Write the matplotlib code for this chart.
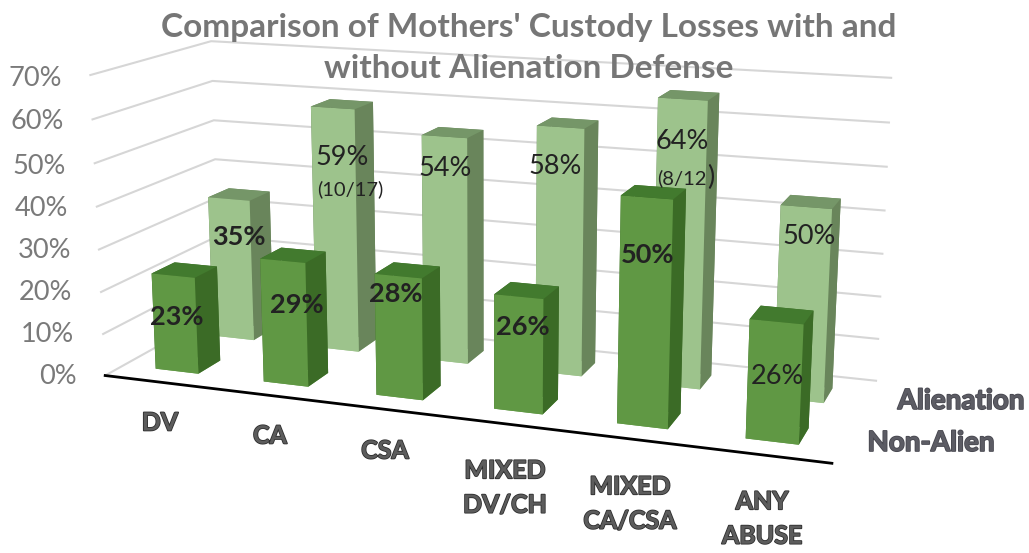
import matplotlib
matplotlib.use("Agg")
import matplotlib.patheffects as pe
import matplotlib.pyplot as plt
import numpy as np

categories = ["DV", "CA", "CSA", "MIXED\nDV/CH", "MIXED\nCA/CSA", "ANY\nABUSE"]
non_alien = [23, 29, 28, 26, 50, 26]
# bar heights as drawn, these differ from the typed-in labels on the last two
alienation = [35, 59, 54, 58, 66, 44]
non_alien_labels = ["23%", "29%", "28%", "26%", "50%", "26%"]
alienation_labels = ["35%", "59%", "54%", "58%", "64%", "50%"]
y_ticks = [0, 10, 20, 30, 40, 50, 60, 70]

W, H = 1029, 553
plt.rcParams["font.family"] = ["Lato", "DejaVu Sans"]

fig = plt.figure(figsize=(W / 100, H / 100), dpi=100)
ax = fig.add_axes([-0.0383, -0.3717, 1, W / H], projection="3d")
ax.set_xlim(0, 6)
ax.set_ylim(0, 2)
ax.set_zlim(0, 70)
ax.view_init(13.6717, -70.0746)
ax.set_proj_type("persp", focal_length=0.346)
ax.set_box_aspect((1, 0.3381, 0.417), zoom=0.797)
ax.set_axis_off()
ax.computed_zorder = False

for t in y_ticks:
    ax.plot([0, 0, 6], [0, 2, 2], [t, t, t], color="#d6d6d6", lw=1.5, zorder=1)
ax.plot([0, 6], [0, 0], [0, 0], color="black", lw=2, zorder=2)

x = np.arange(len(categories)) + 0.3
ax.bar3d(x, np.full(6, 1.3), 0, 0.4, 0.38, alienation, shade=False, zorder=3,
         color=["#9dc38c", "#759668", "#9dc38c", "#69855b", "#69855b", "#69855b"] * 6)
ax.bar3d(x, np.full(6, 0.3), 0, 0.4, 0.38, non_alien, shade=False, zorder=4,
         color=["#609844", "#427a2e", "#609844", "#3b6b26", "#3b6b26", "#3b6b26"] * 6)


def put(px, py, s, **kw):
    # text placed in reference pixels
    kw.setdefault("ha", "center")
    kw.setdefault("va", "center")
    return fig.text(px / W, 1 - (py + 2) / H, s, **kw)


put(529, 26, "Comparison of Mothers' Custody Losses with and", fontsize=24, fontweight="bold", color="#767676")
put(529, 67, "without Alienation Defense", fontsize=24, fontweight="bold", color="#767676")

tick_right = [77, 74, 72, 71, 68, 66, 64, 62]
tick_y = [374, 333, 291, 249, 207, 164, 120, 76]
for t, r, ty in zip(y_ticks, tick_right, tick_y):
    put(r, ty, f"{t}%", ha="right", fontsize=19.5, color="#7a7a7a")

outline = [pe.withStroke(linewidth=1.2, foreground="#2e2e2e")]
cat_x = [160, 270, 385, 505, 630, 762]
cat_y = [421, 434, 449, 486, 502, 517]
for c, cx, cy in zip(categories, cat_x, cat_y):
    put(cx, cy, c, fontsize=18, fontweight="bold", color="#5c5c5c", path_effects=outline,
        linespacing=1.6, multialignment="center")

outline2 = [pe.withStroke(linewidth=1.2, foreground="#47474f")]
put(961, 399, "Alienation", fontsize=20, fontweight="bold", color="#5c5c64", path_effects=outline2)
put(931, 441, "Non-Alien", fontsize=20, fontweight="bold", color="#5c5c64", path_effects=outline2)

back_xy = [(239, 235), (342, 155), (445, 167), (555, 165), (682, 139), (809, 235)]
back_bold = [True, False, False, False, False, False]
for s, (lx, ly), b in zip(alienation_labels, back_xy, back_bold):
    put(lx, ly, s, fontsize=19.5, color="#222222", fontweight="bold" if b else "normal")

front_xy = [(177, 315), (297, 303), (396, 292), (523, 325), (648, 253), (777, 374)]
front_bold = [True, True, True, True, True, False]
for s, (lx, ly), b in zip(non_alien_labels, front_xy, front_bold):
    put(lx, ly, s, fontsize=19.5, color="#222222", fontweight="bold" if b else "normal")

put(350, 187, "(10/17)", fontsize=14.5, color="#222222")
put(707, 176, "(8/12", ha="right", fontsize=14.5, color="#222222")
put(707, 175, ")", ha="left", fontsize=19.5, color="#222222")

fig.savefig("out.png", dpi=100)
